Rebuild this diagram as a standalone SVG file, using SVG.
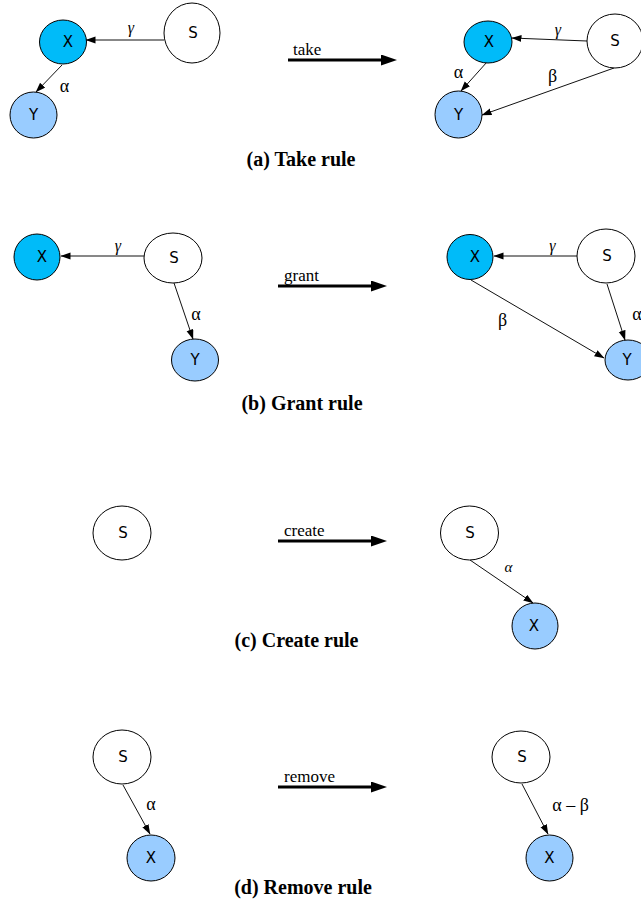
<svg xmlns="http://www.w3.org/2000/svg" width="641" height="899" viewBox="0 0 641 899">
  <style>
    .node { stroke: #000; stroke-width: 1; }
    .plain { fill: #fff; }
    .deep { fill: #00BBF9; }
    .light { fill: #99CCFF; }
    .nlabel { font-family: "DejaVu Sans", sans-serif; font-size: 15px; text-anchor: middle; fill: #000; }
    .edge { stroke: #111; stroke-width: 1; fill: none; marker-end: url(#tip); }
    .greek { font-family: "Liberation Serif", "DejaVu Serif", serif; font-size: 18px; text-anchor: middle; fill: #000; }
    .greek-i { font-family: "Liberation Serif", "DejaVu Serif", serif; font-size: 16px; font-style: italic; text-anchor: middle; fill: #000; }
    .rule { stroke: #000; stroke-width: 3; marker-end: url(#bigtip); }
    .rlabel { font-family: "Liberation Serif", serif; font-size: 17px; fill: #000; }
    .caption { font-family: "Liberation Serif", serif; font-size: 20px; font-weight: bold; text-anchor: middle; fill: #000; }
  </style>
  <defs>
    <marker id="tip" markerUnits="userSpaceOnUse" markerWidth="11" markerHeight="8" refX="9.5" refY="3.5" orient="auto">
      <path d="M0,0 L10,3.5 L0,7 z" fill="#000"/>
    </marker>
    <marker id="bigtip" markerUnits="userSpaceOnUse" markerWidth="17" markerHeight="12" refX="0" refY="5.5" orient="auto">
      <path d="M0,0 L16,5.5 L0,11 z" fill="#000"/>
    </marker>
  </defs>

  <!-- transition arrows between the before and after states -->
  <g id="rules">
    <line class="rule" x1="288" y1="60" x2="381" y2="60"/>
    <text class="rlabel" x="293" y="55">take</text>
    <line class="rule" x1="278" y1="286" x2="371" y2="286"/>
    <text class="rlabel" x="284" y="281">grant</text>
    <line class="rule" x1="278" y1="541" x2="371" y2="541"/>
    <text class="rlabel" x="284" y="536">create</text>
    <line class="rule" x1="278" y1="787" x2="371" y2="787"/>
    <text class="rlabel" x="284" y="782">remove</text>
  </g>

  <!-- rights edges -->
  <g id="connectors">
    <!-- (a) before -->
    <line class="edge" x1="164" y1="40" x2="86" y2="40"/>
    <text class="greek-i" x="131" y="33">γ</text>
    <line class="edge" x1="62" y1="65" x2="36" y2="92"/>
    <text class="greek" x="64.5" y="92">α</text>
    <!-- (a) after -->
    <line class="edge" x1="587" y1="41" x2="512" y2="38"/>
    <text class="greek-i" x="558" y="35">γ</text>
    <line class="edge" x1="487" y1="62" x2="461" y2="91"/>
    <text class="greek" x="458.5" y="78">α</text>
    <line class="edge" x1="614" y1="68" x2="482" y2="115"/>
    <text class="greek" x="552.5" y="82">β</text>
    <!-- (b) before -->
    <line class="edge" x1="144" y1="256" x2="61" y2="256"/>
    <text class="greek-i" x="118" y="251">γ</text>
    <line class="edge" x1="174" y1="283" x2="193" y2="339"/>
    <text class="greek" x="196" y="320">α</text>
    <!-- (b) after -->
    <line class="edge" x1="577" y1="256" x2="494" y2="256"/>
    <text class="greek-i" x="552.5" y="251">γ</text>
    <line class="edge" x1="471" y1="280" x2="604" y2="358"/>
    <text class="greek" x="502.5" y="326">β</text>
    <line class="edge" x1="607" y1="284" x2="625" y2="340"/>
    <text class="greek" x="637" y="320">α</text>
    <!-- (c) after -->
    <line class="edge" x1="470" y1="560" x2="533" y2="603"/>
    <text class="greek-i" x="508.5" y="572" style="font-size:15px">α</text>
    <!-- (d) before -->
    <line class="edge" x1="123" y1="785" x2="150" y2="834"/>
    <text class="greek" x="151" y="810">α</text>
    <!-- (d) after -->
    <line class="edge" x1="522" y1="784" x2="548" y2="834"/>
    <text class="greek" x="570.5" y="811">α – β</text>
  </g>

  <!-- (a) take rule -->
  <g id="a-before-X"><ellipse class="node deep" cx="63" cy="42" rx="23.5" ry="22"/><text class="nlabel" x="68" y="47">X</text></g>
  <g id="a-before-S"><ellipse class="node plain" cx="192" cy="33" rx="28" ry="30"/><text class="nlabel" x="193" y="38">S</text></g>
  <g id="a-before-Y"><ellipse class="node light" cx="33.5" cy="115" rx="23.5" ry="23"/><text class="nlabel" x="33.5" y="120">Y</text></g>
  <g id="a-after-X"><ellipse class="node deep" cx="488" cy="42" rx="24" ry="21"/><text class="nlabel" x="489" y="47">X</text></g>
  <g id="a-after-S"><ellipse class="node plain" cx="615" cy="41" rx="28" ry="27"/><text class="nlabel" x="615" y="46">S</text></g>
  <g id="a-after-Y"><ellipse class="node light" cx="458.5" cy="114.5" rx="23.5" ry="23.5"/><text class="nlabel" x="458.5" y="119.5">Y</text></g>
  <text class="caption" x="301" y="166">(a) Take rule</text>

  <!-- (b) grant rule -->
  <g id="b-before-X"><ellipse class="node deep" cx="37" cy="257" rx="23" ry="23"/><text class="nlabel" x="42" y="262">X</text></g>
  <g id="b-before-S"><ellipse class="node plain" cx="173" cy="258" rx="29" ry="25"/><text class="nlabel" x="174" y="263">S</text></g>
  <g id="b-before-Y"><ellipse class="node light" cx="195" cy="360" rx="23.5" ry="21"/><text class="nlabel" x="195" y="365">Y</text></g>
  <g id="b-after-X"><ellipse class="node deep" cx="470" cy="257" rx="23" ry="22.5"/><text class="nlabel" x="475" y="262">X</text></g>
  <g id="b-after-S"><ellipse class="node plain" cx="606" cy="256" rx="29" ry="27"/><text class="nlabel" x="607" y="261">S</text></g>
  <g id="b-after-Y"><ellipse class="node light" cx="628" cy="360" rx="23" ry="20"/><text class="nlabel" x="627" y="365">Y</text></g>
  <text class="caption" x="302" y="410">(b) Grant rule</text>

  <!-- (c) create rule -->
  <g id="c-before-S"><ellipse class="node plain" cx="122" cy="533" rx="29" ry="27"/><text class="nlabel" x="123" y="538">S</text></g>
  <g id="c-after-S"><ellipse class="node plain" cx="469.5" cy="533" rx="29" ry="27"/><text class="nlabel" x="470" y="538">S</text></g>
  <g id="c-after-X"><ellipse class="node light" cx="535" cy="626" rx="23" ry="23"/><text class="nlabel" x="534" y="631">X</text></g>
  <text class="caption" x="296.5" y="647">(c) Create rule</text>

  <!-- (d) remove rule -->
  <g id="d-before-S"><ellipse class="node plain" cx="122" cy="757" rx="29" ry="27"/><text class="nlabel" x="123" y="762">S</text></g>
  <g id="d-before-X"><ellipse class="node light" cx="151" cy="858" rx="24" ry="23"/><text class="nlabel" x="151" y="863">X</text></g>
  <g id="d-after-S"><ellipse class="node plain" cx="521" cy="757" rx="29" ry="26"/><text class="nlabel" x="522" y="762">S</text></g>
  <g id="d-after-X"><ellipse class="node light" cx="549.5" cy="858" rx="23.5" ry="23"/><text class="nlabel" x="549.5" y="863">X</text></g>
  <text class="caption" x="303" y="894">(d) Remove rule</text>
</svg>
